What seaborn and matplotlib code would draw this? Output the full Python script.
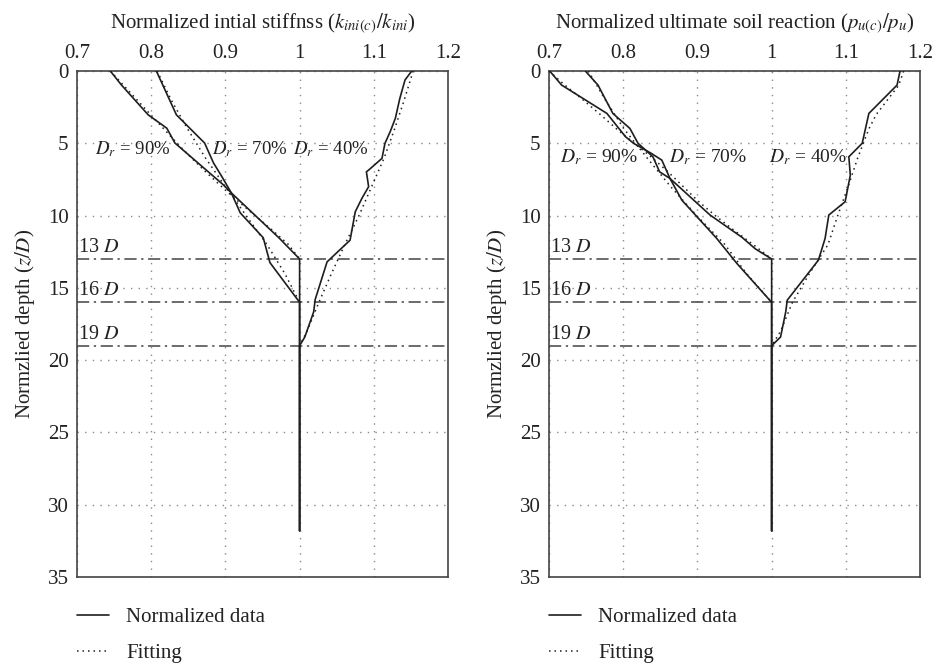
import matplotlib
matplotlib.use("Agg")
import matplotlib.pyplot as plt
import seaborn as sns
from matplotlib.lines import Line2D

sns.set_theme(style="white")
plt.rcParams["font.family"] = ["Liberation Serif", "DejaVu Serif"]
plt.rcParams["mathtext.fontset"] = "stix"

# ---- initial stiffness: normalized data (depth z/D, ratio) ----
k90_depth = [0, 0.97, 3.03, 3.95, 4.98, 7.86, 8.43, 11.53, 13.0, 31.8]
k90_val = [0.745, 0.760, 0.796, 0.821, 0.832, 0.897, 0.908, 0.972, 1.0, 1.0]
k70_depth = [0, 3.03, 4.98, 6.36, 7.28, 8.43, 9.81, 11.53, 13.25, 16.0, 31.8]
k70_val = [0.807, 0.834, 0.872, 0.884, 0.895, 0.908, 0.920, 0.951, 0.960, 1.0, 1.0]
k40_depth = [0, 0.62, 1.9, 3.27, 4.2, 5.0, 6.04, 6.85, 6.97, 8.0, 8.8, 9.73,
             11.7, 13.2, 15.8, 16.65, 18.4, 19.0, 31.8]
k40_val = [1.151, 1.142, 1.135, 1.129, 1.122, 1.115, 1.111, 1.093, 1.090, 1.093,
           1.084, 1.075, 1.068, 1.037, 1.021, 1.019, 1.007, 1.0, 1.0]

# ---- initial stiffness: fitting ----
k90_fit_depth = [0, 1, 2, 3, 4, 5, 6, 7, 8, 9, 10, 11, 12, 13]
k90_fit_val = [0.745, 0.763, 0.781, 0.799, 0.817, 0.835, 0.854, 0.874, 0.895,
               0.917, 0.940, 0.963, 0.985, 1.0]
k70_fit_depth = [0, 2, 4, 6, 8, 10, 12, 14, 16]
k70_fit_val = [0.808, 0.827, 0.849, 0.873, 0.900, 0.928, 0.956, 0.980, 1.0]
k40_fit_depth = [0, 2, 4, 6, 8, 10, 12, 14, 16, 18, 19]
k40_fit_val = [1.153, 1.141, 1.128, 1.114, 1.097, 1.080, 1.061, 1.043, 1.026,
               1.010, 1.0]

# ---- ultimate soil reaction: normalized data ----
p90_depth = [0, 0.97, 2.93, 4.54, 5.0, 5.7, 6.16, 7.43, 9.96, 11.5, 12.3, 13.0, 31.8]
p90_val = [0.701, 0.717, 0.778, 0.803, 0.814, 0.838, 0.852, 0.863, 0.917, 0.960,
           0.978, 1.0, 1.0]
p70_depth = [0, 0.97, 2.93, 3.97, 5.0, 5.93, 6.97, 7.43, 8.93, 11.58, 13.3, 16.0, 31.8]
p70_val = [0.749, 0.766, 0.786, 0.809, 0.820, 0.840, 0.849, 0.863, 0.879, 0.926,
           0.953, 1.0, 1.0]
p40_depth = [0, 0.97, 2.93, 5.0, 5.93, 7.2, 9.04, 9.96, 11.58, 13.08, 15.85,
             16.65, 18.4, 19.0, 31.8]
p40_val = [1.173, 1.169, 1.131, 1.122, 1.104, 1.106, 1.099, 1.077, 1.072, 1.063,
           1.021, 1.019, 1.012, 1.0, 1.0]

# ---- ultimate soil reaction: fitting ----
p90_fit_depth = [0, 1, 2, 3, 4, 5, 6, 7, 8, 9, 10, 11, 12, 13]
p90_fit_val = [0.700, 0.722, 0.746, 0.769, 0.791, 0.815, 0.839, 0.861, 0.881,
               0.901, 0.924, 0.949, 0.975, 1.0]
p70_fit_depth = [0, 2, 4, 6, 8, 10, 12, 14, 16]
p70_fit_val = [0.753, 0.776, 0.801, 0.832, 0.864, 0.899, 0.937, 0.966, 1.0]
p40_fit_depth = [0, 1, 2, 3, 4, 6, 8, 10, 12, 14, 16, 18, 19]
p40_fit_val = [1.178, 1.171, 1.156, 1.141, 1.131, 1.116, 1.103, 1.089, 1.076,
               1.051, 1.028, 1.012, 1.0]

x_ticks = [0.7, 0.8, 0.9, 1.0, 1.1, 1.2]
x_ticklabels = ["0.7", "0.8", "0.9", "1", "1.1", "1.2"]
y_ticks = [0, 5, 10, 15, 20, 25, 30, 35]
limit_depths = [13, 16, 19]
limit_labels = ["13 $D$", "16 $D$", "19 $D$"]
dr_labels = ["$D_r$ = 90%", "$D_r$ = 70%", "$D_r$ = 40%"]

panels = [
    dict(
        title=r"Normalized intial stiffnss ($k_{ini(c)}/k_{ini}$)",
        data=[(k90_val, k90_depth), (k70_val, k70_depth), (k40_val, k40_depth)],
        fit=[(k90_fit_val, k90_fit_depth), (k70_fit_val, k70_fit_depth),
             (k40_fit_val, k40_fit_depth)],
        dr_x=[0.724, 0.882, 0.991], dr_y=5.4, dr_size=13.5,
    ),
    dict(
        title=r"Normalized ultimate soil reaction ($p_{u(c)}/p_u$)",
        data=[(p90_val, p90_depth), (p70_val, p70_depth), (p40_val, p40_depth)],
        fit=[(p90_fit_val, p90_fit_depth), (p70_fit_val, p70_fit_depth),
             (p40_fit_val, p40_fit_depth)],
        dr_x=[0.715, 0.862, 0.996], dr_y=5.95, dr_size=14,
    ),
]

ink = "#1e1e1e"
txt = "#222222"
fig = plt.figure(figsize=(9.34, 6.64), dpi=100)
axes = [fig.add_axes([0.0824, 0.131, 0.3973, 0.762]),
        fig.add_axes([0.5878, 0.131, 0.3973, 0.762])]

for ax, p in zip(axes, panels):
    for xv, yv in p["fit"]:
        sns.lineplot(x=xv, y=yv, ax=ax, sort=False, estimator=None, color=ink,
                     linewidth=1.1, linestyle=(0, (1, 2.6)), zorder=3)
    for xv, yv in p["data"]:
        sns.lineplot(x=xv, y=yv, ax=ax, sort=False, estimator=None, color=ink,
                     linewidth=1.2, zorder=4)

    ax.set_xlim(0.7, 1.2)
    ax.set_ylim(35, 0)
    ax.set_xticks(x_ticks)
    ax.set_xticklabels(x_ticklabels)
    ax.set_yticks(y_ticks)
    ax.xaxis.tick_top()
    ax.xaxis.set_label_position("top")
    ax.tick_params(axis="x", length=0, labelsize=15, colors=txt, pad=6)
    ax.tick_params(axis="y", length=0, labelsize=15, colors=txt, pad=6)
    ax.set_xlabel(p["title"], fontsize=15, color=txt, labelpad=11)
    ax.set_ylabel("Normzlied depth ($z/D$)", fontsize=15, color=txt,
                  labelpad=8)

    ax.grid(True, color="#8a8a8a", linestyle=(0, (1, 4.5)), linewidth=1.0)
    for s in ax.spines.values():
        s.set_color("#444444")
        s.set_linewidth(1.2)

    for d, lab in zip(limit_depths, limit_labels):
        ax.axhline(d, color="#444444", linewidth=1.1,
                   linestyle=(0, (8, 3, 1.5, 3)), zorder=2)
        ax.text(0.7015, d - 0.8, lab, fontsize=14.5, color=txt,
                ha="left", va="center")
    for x, lab in zip(p["dr_x"], dr_labels):
        ax.text(x, p["dr_y"], lab, fontsize=p["dr_size"], color=txt,
                ha="left", va="center", zorder=5)

    handles = [Line2D([], [], color=ink, linewidth=1.2),
               Line2D([], [], color=ink, linewidth=1.1, linestyle=(0, (1, 2.6)))]
    ax.legend(handles, ["Normalized data", "Fitting"], loc="upper left",
              bbox_to_anchor=(0.0, -0.06), frameon=False, fontsize=15,
              handlelength=1.55, handletextpad=0.8, labelspacing=0.8,
              borderpad=0, borderaxespad=0, labelcolor=txt)

fig.savefig("out.png", dpi=100)
